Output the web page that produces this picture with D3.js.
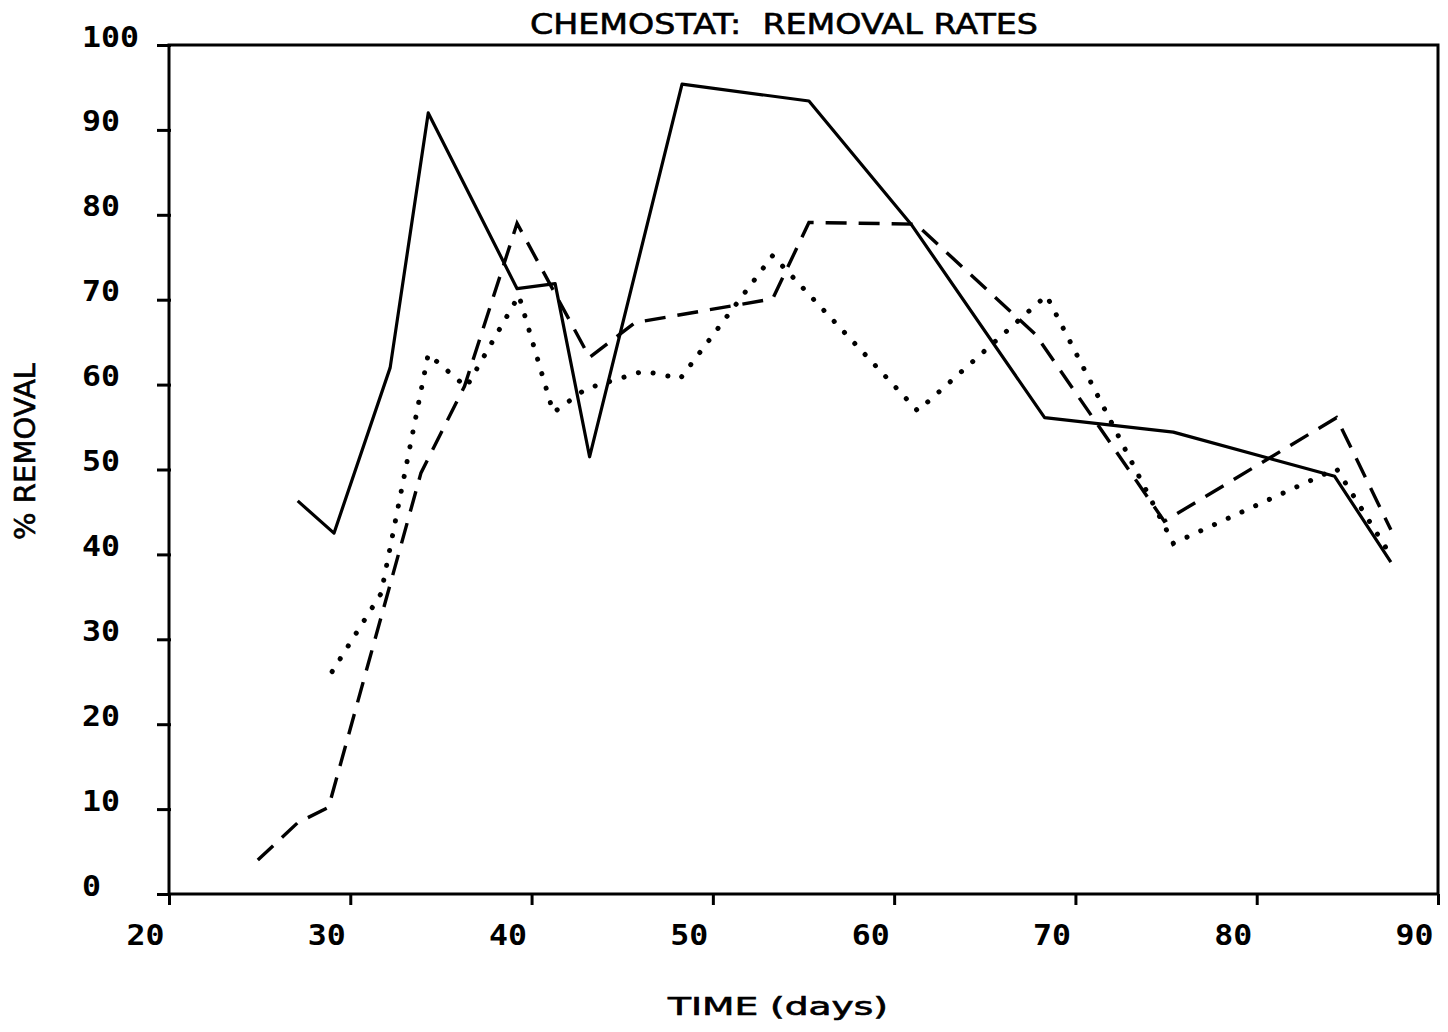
<!DOCTYPE html>
<html>
<head>
<meta charset="utf-8">
<script src="https://cdn.jsdelivr.net/npm/d3@7"></script>
<style>
  body { margin: 0; background: #fff; }
  svg { display: block; }
  .lbl { font-family: "DejaVu Sans", sans-serif; fill: #000; }
  .tick-lbl { font-family: "DejaVu Sans Mono", monospace; font-weight: bold; fill: #000; }
</style>
</head>
<body>
<div class="c_chart"></div>
<script>
/* DATA
------------------------------------------------------ */
// solid line
const solidDays = [27.1, 29.1, 32.2, 34.3, 39.2, 41.3, 43.2, 48.3, 55.3, 61.0, 68.3, 75.4, 84.3, 87.4];
const solidVals = [46.3, 42.5, 62.0, 92.0, 71.3, 71.9, 51.5, 95.4, 93.4, 78.7, 56.1, 54.4, 49.2, 39.1];
// dashed line
const dashedDays = [24.9, 27.1, 28.8, 33.9, 36.3, 39.2, 43.2, 45.7, 53.3, 55.3, 61.2, 67.8, 74.9, 84.4, 87.4];
const dashedVals = [4.0, 8.4, 10.2, 49.6, 59.8, 79.0, 63.2, 67.3, 70.1, 79.1, 78.9, 65.9, 43.9, 56.1, 42.9];
// dotted line
const dottedDays = [29.0, 31.7, 34.3, 36.4, 39.3, 41.2, 43.0, 46.2, 48.2, 53.3, 61.3, 68.4, 75.4, 84.4, 87.3];
const dottedVals = [26.2, 35.4, 63.6, 59.7, 70.5, 56.7, 59.5, 61.6, 60.7, 75.2, 56.9, 70.5, 41.3, 50.1, 40.2];

const xTicks = [20, 30, 40, 50, 60, 70, 80, 90];
const yTicks = [0, 10, 20, 30, 40, 50, 60, 70, 80, 90, 100];

const title = "CHEMOSTAT:  REMOVAL RATES";
const xTitle = "TIME (days)";
const yTitle = "% REMOVAL";

/* SVG
------------------------------------------------------ */
const width = 1448, height = 1032;
const svg = d3.select(".c_chart").append("svg")
  .attr("width", width)
  .attr("height", height);

const x = d3.scaleLinear().domain([20, 90]).range([169, 1438]);
const y = d3.scaleLinear().domain([0, 100]).range([894, 45]);

// frame
svg.append("rect")
  .attr("x", x(20)).attr("y", y(100))
  .attr("width", x(90) - x(20)).attr("height", y(0) - y(100))
  .attr("fill", "none").attr("stroke", "#000").attr("stroke-width", 3);

/* AXES
------------------------------------------------------ */
const yAxis = svg.append("g")
  .attr("transform", `translate(${x(20)},0)`)
  .call(d3.axisLeft(y).tickValues(yTicks).tickSize(12));
yAxis.select(".domain").remove();
yAxis.selectAll("line").attr("stroke", "#000").attr("stroke-width", 3).attr("x2", -12).attr("x1", 2);
yAxis.selectAll("text")
  .attr("class", "tick-lbl")
  .attr("text-anchor", "start")
  .attr("x", 82 - x(20))
  .attr("y", 1).attr("dy", 0)
  .attr("font-size", 28)
  .attr("textLength", d => String(d).length * 19)
  .attr("lengthAdjust", "spacingAndGlyphs");

const xAxis = svg.append("g")
  .attr("transform", `translate(0,${y(0)})`)
  .call(d3.axisBottom(x).tickValues(xTicks).tickSize(11));
xAxis.select(".domain").remove();
xAxis.selectAll("line").attr("stroke", "#000").attr("stroke-width", 3);
xAxis.selectAll("text")
  .attr("class", "tick-lbl")
  .attr("text-anchor", "start")
  .attr("x", -43)
  .attr("y", 51).attr("dy", 0)
  .attr("font-size", 29)
  .attr("textLength", d => String(d).length * 19)
  .attr("lengthAdjust", "spacingAndGlyphs");

/* LINES
------------------------------------------------------ */
const line = d3.line().x(d => x(d[0])).y(d => y(d[1]));
const pairs = (a, b) => a.map((d, i) => [d, b[i]]);

svg.append("path")
  .attr("d", line(pairs(solidDays, solidVals)))
  .attr("fill", "none").attr("stroke", "#000").attr("stroke-width", 3.2)
  .attr("stroke-linejoin", "round");

svg.append("path")
  .attr("d", line(pairs(dashedDays, dashedVals)))
  .attr("fill", "none").attr("stroke", "#000").attr("stroke-width", 3.4)
  .attr("stroke-dasharray", "21 12");

svg.append("path")
  .attr("d", line(pairs(dottedDays, dottedVals)))
  .attr("fill", "none").attr("stroke", "#000").attr("stroke-width", 5)
  .attr("stroke-linecap", "round")
  .attr("stroke-dasharray", "0.1 15");

/* TEXTS
------------------------------------------------------ */
svg.append("text").attr("class", "lbl")
  .attr("x", 530).attr("y", 34)
  .attr("font-size", 28)
  .attr("stroke", "#000").attr("stroke-width", 0.6)
  .attr("textLength", 508).attr("lengthAdjust", "spacingAndGlyphs")
  .style("white-space", "pre")
  .text(title);

svg.append("text").attr("class", "lbl")
  .attr("x", 668).attr("y", 1015)
  .attr("font-size", 24)
  .attr("stroke", "#000").attr("stroke-width", 0.6)
  .attr("textLength", 220).attr("lengthAdjust", "spacingAndGlyphs")
  .style("white-space", "pre")
  .text(xTitle);

svg.append("text").attr("class", "lbl")
  .attr("transform", "translate(35,540) rotate(-90)")
  .attr("font-size", 29)
  .attr("stroke", "#000").attr("stroke-width", 0.6)
  .attr("textLength", 177).attr("lengthAdjust", "spacingAndGlyphs")
  .text(yTitle);
</script>
</body>
</html>
